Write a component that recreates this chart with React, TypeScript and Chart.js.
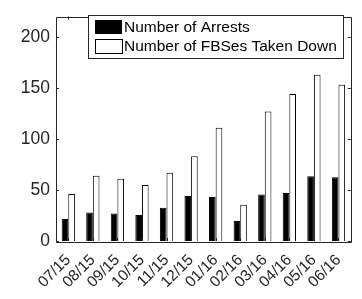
import React, { useEffect, useRef } from "react";
import { Chart, registerables } from "chart.js";

Chart.register(...registerables);

const categories = ["07/15", "08/15", "09/15", "10/15", "11/15", "12/15", "01/16", "02/16", "03/16", "04/16", "05/16", "06/16"];
const arrests = [21.5, 28, 27, 25.5, 32.5, 44, 43, 19.5, 45.5, 47, 63.5, 62.5];
const fbsTakenDown = [46, 64, 61, 55, 67, 83, 111, 35.5, 127, 144, 163, 153];
const yTicks = [0, 50, 100, 150, 200];
const seriesLabels = ["Number of Arrests", "Number of FBSes Taken Down"];

const AXIS = "#262626";
const FONT = "'Liberation Sans', Arial, sans-serif";

const framePlugin = {
  id: "frame",
  afterDraw(chart: any) {
    const { ctx, chartArea } = chart;
    const { left, right, top, bottom } = chartArea;
    const y = chart.scales.y;
    const x = chart.scales.x;
    ctx.save();
    ctx.strokeStyle = AXIS;
    ctx.lineWidth = 1;
    ctx.beginPath();
    ctx.rect(Math.round(left) + 0.5, Math.round(top) + 0.5, Math.round(right - left), Math.round(bottom - top));
    ctx.stroke();
    const tl = 3;
    ctx.beginPath();
    yTicks.forEach((v) => {
      const py = Math.round(y.getPixelForValue(v)) + 0.5;
      ctx.moveTo(left, py);
      ctx.lineTo(left + tl, py);
      ctx.moveTo(right, py);
      ctx.lineTo(right - tl, py);
    });
    categories.forEach((_, i) => {
      const px = Math.round(x.getPixelForValue(i)) + 0.5;
      ctx.moveTo(px, top);
      ctx.lineTo(px, top + tl);
      ctx.moveTo(px, bottom);
      ctx.lineTo(px, bottom - tl);
    });
    ctx.stroke();

    // legend
    const lx = 88.5, ly = 15.5, lw = 255, lh = 43;
    ctx.fillStyle = "#fff";
    ctx.fillRect(lx, ly, lw, lh);
    ctx.strokeStyle = AXIS;
    ctx.strokeRect(lx, ly, lw, lh);
    const sw = 27, sh = 14;
    const rows = [20, 39];
    ctx.font = `15.5px ${FONT}`;
    ctx.textBaseline = "middle";
    ctx.textAlign = "left";
    rows.forEach((ry, i) => {
      if (i === 0) {
        ctx.fillStyle = "#000";
        ctx.fillRect(95, ry, sw, sh);
      } else {
        ctx.fillStyle = "#fff";
        ctx.fillRect(95.5, ry + 0.5, sw, sh);
        ctx.strokeStyle = "#000";
        ctx.strokeRect(95.5, ry + 0.5, sw, sh);
      }
      ctx.fillStyle = "#000";
      ctx.fillText(seriesLabels[i], 124, ry + sh / 2 + 0.5);
    });
    ctx.restore();
  },
};

export default function App() {
  const ref = useRef<HTMLCanvasElement>(null);
  useEffect(() => {
    document.body.style.margin = "0";
    const chart = new Chart(ref.current!, {
      type: "bar",
      data: {
        labels: categories,
        datasets: [
          {
            label: seriesLabels[0],
            data: arrests,
            backgroundColor: "#000",
            borderColor: "#000",
            borderWidth: 1,
            barPercentage: 1,
            categoryPercentage: 0.54,
          },
          {
            label: seriesLabels[1],
            data: fbsTakenDown,
            backgroundColor: "#fff",
            borderColor: "#000",
            borderWidth: 1,
            barPercentage: 1,
            categoryPercentage: 0.54,
          },
        ],
      },
      options: {
        responsive: false,
        animation: false,
        layout: { padding: { left: 0, right: 9, top: 6, bottom: 0 } },
        plugins: { legend: { display: false }, tooltip: { enabled: false } },
        scales: {
          x: {
            grid: { display: false, drawTicks: false },
            border: { display: false },
            ticks: {
              color: AXIS,
              font: { family: FONT, size: 15.5 },
              minRotation: 45,
              maxRotation: 45,
              padding: 10,
              autoSkip: false,
            },
            afterFit: (s: any) => {
              s.height = 58;
            },
          },
          y: {
            min: 0,
            max: 220,
            grid: { display: false, drawTicks: false },
            border: { display: false },
            ticks: {
              color: AXIS,
              font: { family: FONT, size: 17.5 },
              stepSize: 50,
              padding: 6,
            },
            afterBuildTicks: (s: any) => {
              s.ticks = s.ticks.filter((t: any) => yTicks.includes(t.value));
            },
            afterFit: (s: any) => {
              s.width = 56;
            },
          },
        },
      },
      plugins: [framePlugin],
    });
    return () => chart.destroy();
  }, []);
  return <canvas ref={ref} width={362} height={299} />;
}
